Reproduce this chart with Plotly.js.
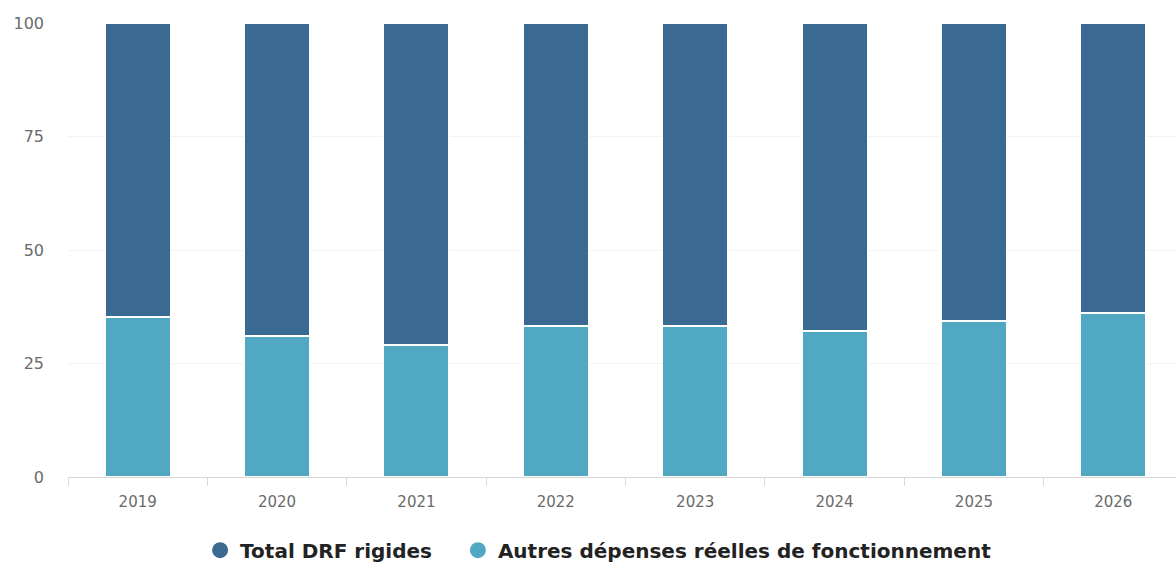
<!DOCTYPE html>
<html><head><meta charset="utf-8">
<script src="https://cdn.plot.ly/plotly-3.0.1.min.js"></script>
<style>html,body{margin:0;padding:0;overflow:hidden;background:#fff}#chart{width:1183px;height:562px}</style>
</head><body><div id="chart"></div>
<script>
const years = ["2019","2020","2021","2022","2023","2024","2025","2026"];
const autres = [35.2, 31.1, 29.1, 33.3, 33.3, 32.2, 34.4, 36.1];
const drfRigides = [64.8, 68.9, 70.9, 66.7, 66.7, 67.8, 65.6, 63.9];
const seriesNames = ["Total DRF rigides", "Autres dépenses réelles de fonctionnement"];
const colDark = "#3a6992", colLight = "#51a8c3";

const traces = [
  {type:"bar", x:years, y:autres, name:seriesNames[1], marker:{color:colLight, line:{color:"#ffffff", width:1.5}}, showlegend:false},
  {type:"bar", x:years, y:drfRigides, name:seriesNames[0], marker:{color:colDark, line:{color:"#ffffff", width:1.5}}, showlegend:false},
  {type:"scatter", mode:"markers", x:[null], y:[null], name:seriesNames[0] + "\u00a0\u00a0\u00a0", marker:{symbol:"circle", size:18, color:colDark}},
  {type:"scatter", mode:"markers", x:[null], y:[null], name:seriesNames[1], marker:{symbol:"circle", size:18, color:colLight}}
];
const layout = {
  width:1183, height:562,
  margin:{l:68, r:0, t:23, b:85, autoexpand:false},
  barmode:"stack", bargap:0.53,
  paper_bgcolor:"#fff", plot_bgcolor:"#fff",
  font:{family:"DejaVu Sans", color:"#666", size:14},
  xaxis:{type:"category", tickson:"boundaries", ticks:"outside", ticklen:8, tickcolor:"#d8d8d8",
    showline:true, linecolor:"#d8d8d8", linewidth:1, showgrid:false, ticklabelstandoff:11,
    tickfont:{size:15, color:"#6a6a6a"}, fixedrange:true},
  yaxis:{range:[0,100], tickvals:[0,25,50,75,100], showgrid:true, gridcolor:"#f3f3f3", zeroline:false,
    showline:false, ticks:"", ticklabelstandoff:23, tickfont:{size:16, color:"#6a6a6a"}},
  legend:{orientation:"h", traceorder:"normal", xref:"container", x:0.506, xanchor:"center", yref:"container", y:0.021, yanchor:"middle",
    font:{family:"DejaVu Sans", size:20, color:"#222", weight:"bold"}, itemwidth:30},
  showlegend:true
};
Plotly.newPlot("chart", traces, layout, {displayModeBar:false, staticPlot:true});
</script></body></html>
